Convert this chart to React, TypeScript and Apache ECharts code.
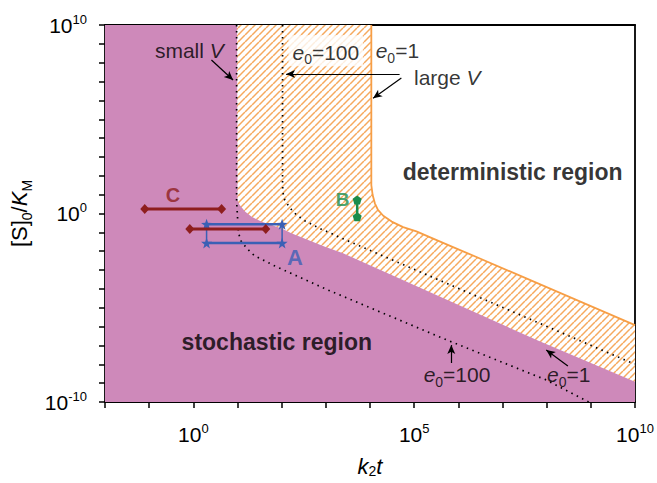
import React, { useEffect, useRef } from 'react';
import * as echarts from 'echarts';

// Both axes are logarithmic (decades); every value below is stored as log10 of the quantity.
// ---- axis ranges: log10(k2t) and log10([S]0/KM) ----
const X_MIN = -2;
const X_MAX = 10;
const Y_MIN = -10;
const Y_MAX = 10;
const X_LABEL_EXPONENTS = [0, 5, 10];
const Y_LABEL_EXPONENTS = [-10, 0, 10];

// ---- boundaries as [log10(k2t), log10([S]0/KM)] ----
// stochastic (purple) region boundary: small V, e0 = 1
const smallVe01 = [
  [-2, 10], [0.99, 10], [1.0, 0.72], [1.05, 0.45], [1.17, 0.1], [1.32, -0.17],
  [1.55, -0.44], [1.77, -0.61], [2.0, -0.79], [2.22, -1.05], [2.6, -1.41],
  [2.98, -1.76], [3.39, -2.11], [7.84, -6.78], [10, -8.93],
];
// orange boundary: large V, e0 = 1
const largeVe01 = [
  [4.03, 10], [4.03, 1.51], [4.06, 0.98], [4.11, 0.54], [4.18, 0.19], [4.3, -0.12],
  [4.49, -0.43], [4.75, -0.72], [5.05, -0.95], [5.43, -1.33], [5.88, -1.78],
  [6.41, -2.31], [10, -5.92],
];
// dotted: large V, e0 = 100
const largeVe0100 = [
  [2.02, 10], [2.02, 1.51], [2.03, 1.1], [2.07, 0.72], [2.19, 0.28], [2.34, -0.08],
  [2.52, -0.38], [2.71, -0.61], [2.9, -0.84], [3.09, -1.02], [3.31, -1.26],
  [9.86, -7.86], [10, -7.98],
];
// dotted: small V, e0 = 100
const smallVe0100 = [
  [0.98, 10], [0.98, 0.63], [1.0, -0.17], [1.02, -1.02], [1.08, -1.46], [1.21, -1.85],
  [1.39, -2.25], [1.66, -2.56], [1.85, -2.79], [3.05, -4.06], [5.74, -6.71],
  [7.99, -8.83], [8.95, -10],
];

// ---- experimental ranges ----
const rangeC = [[-1.1, 0.24], [0.64, 0.24]];
const rangeC2 = [[-0.08, -0.82], [1.64, -0.82]];
const rangeATop = [[0.3, -0.57], [2.01, -0.57]];
const rangeABottom = [[0.3, -1.57], [2.01, -1.57]];
const rangeALeft = [[0.3, -0.57], [0.3, -1.57]];
const rangeARight = [[2.01, -0.57], [2.01, -1.57]];
const rangeB = [[3.71, 0.72], [3.71, -0.17]];

// ---- annotations: [log x, log y, text key] ----
const annotations: [number, number, string][] = [
  [-0.09, 8.67, 'smallV'],
  [3.0, 8.64, 'e0100top'],
  [4.62, 8.64, 'e01top'],
  [5.75, 7.24, 'largeV'],
  [7.23, 2.2, 'det'],
  [1.89, -6.8, 'sto'],
  [5.97, -8.55, 'e0100bot'],
  [8.5, -8.55, 'e01bot'],
  [-0.46, 0.98, 'C'],
  [2.3, -2.31, 'A'],
  [3.38, 0.72, 'B'],
];
// arrows: [from lx, from ly, to lx, to ly]
const arrows = [
  [0.41, 8.14, 0.9, 7.08],
  [4.67, 7.4, 2.1, 7.4],
  [4.71, 7.19, 4.07, 6.11],
  [5.84, -7.93, 5.84, -6.98],
  [8.48, -8.09, 7.99, -7.24],
];

const FONT = 'Liberation Sans, Arial, sans-serif';
const INK = '#000';
const PURPLE = '#CE89BA';
const ORANGE = '#F79E45';
const DARKRED = '#8E1E1E';
const BLUE = '#3B60B5';
const GREEN = '#1B8C4C';

const STAR = 'path://M50,0 L61.8,33.8 L97.6,34.5 L69,56.2 L79.4,90.5 L50,70 L20.6,90.5 L31,56.2 L2.4,34.5 L38.2,33.8 Z';
const PENTAGON = 'path://M50,0 L97.6,34.5 L79.4,90.5 L20.6,90.5 L2.4,34.5 Z';

function makeHatch() {
  const s = 7;
  const c = document.createElement('canvas');
  c.width = s;
  c.height = s;
  const ctx = c.getContext('2d')!;
  ctx.fillStyle = '#ffffff';
  ctx.fillRect(0, 0, s, s);
  ctx.strokeStyle = '#F6A95E';
  ctx.lineWidth = 1.5;
  for (const k of [-1, 0, 1]) {
    ctx.beginPath();
    ctx.moveTo(k * s, s);
    ctx.lineTo(k * s + s, 0);
    ctx.stroke();
  }
  return c;
}

const subRich = (size: number, pad: number) => ({ fontSize: size, fontFamily: FONT, color: INK, padding: [pad, 0, 0, 0] });

const labelTexts: Record<string, any> = {
  smallV: { formatter: '{n|small }{i|V}' },
  e0100top: { formatter: '{i|e}{s|0}{n|=100}', backgroundColor: '#fff', padding: [3, 4, 0, 4] },
  e01top: { formatter: '{i|e}{s|0}{n|=1}' },
  largeV: { formatter: '{n|large }{i|V}' },
  det: { formatter: '{b|deterministic region}' },
  sto: { formatter: '{b|stochastic region}' },
  e0100bot: { formatter: '{i|e}{s|0}{n|=100}' },
  e01bot: { formatter: '{i|e}{s|0}{n|=1}' },
  C: { formatter: '{c|C}' },
  A: { formatter: '{a|A}' },
  B: { formatter: '{g|B}' },
};

const annRich = {
  n: { fontSize: 21, fontFamily: FONT, color: INK },
  i: { fontSize: 21, fontFamily: FONT, fontStyle: 'italic', color: INK },
  s: subRich(14, 14),
  b: { fontSize: 23, fontFamily: FONT, fontWeight: 'bold', color: INK },
  c: { fontSize: 20, fontFamily: FONT, fontWeight: 'bold', color: DARKRED },
  a: { fontSize: 22, fontFamily: FONT, fontWeight: 'bold', color: BLUE },
  g: { fontSize: 19, fontFamily: FONT, fontWeight: 'bold', color: GREEN },
};

const makeTickFormatter = (shown: number[]) => (v: number) => {
  const e = Math.round(v);
  return shown.includes(e) ? `{b|10}{s|${e}}` : '';
};
const tickRich = {
  b: { fontSize: 21, fontFamily: FONT, color: INK },
  s: { fontSize: 13, fontFamily: FONT, color: INK, padding: [0, 0, 12, 0] },
};

export default function App() {
  const ref = useRef<HTMLDivElement>(null);
  useEffect(() => {
    if (!ref.current) return;
    const chart = echarts.init(ref.current, null, { renderer: 'svg' });
    const hatch = makeHatch();
    const axisLine = { show: true, onZero: false, lineStyle: { color: INK, width: 1.8 } };
    const axisTick = { show: true, length: 6, lineStyle: { color: INK, width: 1.5 } };

    const lineSeries = (data: number[][], color: string, width: number, z: number, extra: any = {}) => ({
      type: 'line',
      data,
      symbol: 'none',
      lineStyle: { color, width },
      z,
      silent: true,
      ...extra,
    });
    const markerSeries = (data: number[][], color: string, symbol: string, size: any, width: number, z: number) => ({
      type: 'line',
      data,
      symbol,
      symbolSize: size,
      showSymbol: true,
      itemStyle: { color },
      lineStyle: { color, width },
      z,
      silent: true,
    });

    chart.setOption({
      animation: false,
      backgroundColor: '#fff',
      grid: { left: 105, right: 22, top: 25, bottom: 81, containLabel: false, outerBoundsMode: 'none' },
      xAxis: [
        {
          type: 'value', min: X_MIN, max: X_MAX, interval: 1,
          axisLine, axisTick,
          splitLine: { show: false },
          axisLabel: {
            formatter: makeTickFormatter(X_LABEL_EXPONENTS), rich: tickRich, margin: 20,
            showMinLabel: true, showMaxLabel: true, hideOverlap: false,
          },
          name: '{i|k}{s|2}{i|t}', nameLocation: 'middle', nameGap: 53,
          nameTextStyle: { rich: { i: { fontSize: 22, fontFamily: FONT, fontStyle: 'italic', color: INK }, s: subRich(14, 9) } },
        },
        { type: 'value', position: 'top', min: 0, max: 1, axisLine, axisTick: { show: false }, axisLabel: { show: false }, splitLine: { show: false } },
      ],
      yAxis: [
        {
          type: 'value', min: Y_MIN, max: Y_MAX, interval: 1,
          axisLine, axisTick,
          splitLine: { show: false },
          axisLabel: {
            formatter: makeTickFormatter(Y_LABEL_EXPONENTS), rich: tickRich, margin: 18,
            showMinLabel: true, showMaxLabel: true, hideOverlap: false,
          },
          name: '{n|[S]}{s|0}{n|/}{i|K}{s|M}', nameLocation: 'middle', nameGap: 62,
          nameTextStyle: {
            rich: {
              n: { fontSize: 22, fontFamily: FONT, color: INK },
              i: { fontSize: 22, fontFamily: FONT, fontStyle: 'italic', color: INK },
              s: subRich(14, 14),
            },
          },
        },
        { type: 'value', position: 'right', min: 0, max: 1, axisLine, axisTick: { show: false }, axisLabel: { show: false }, splitLine: { show: false } },
      ],
      series: [
        // hatched region (below large V, e0=1 boundary)
        {
          type: 'line', silent: true, z: 1, symbol: 'none',
          data: [[X_MIN, Y_MAX], ...largeVe01],
          lineStyle: { width: 0, opacity: 0 },
          areaStyle: { origin: 'start', opacity: 1, color: { image: hatch, repeat: 'repeat', imageWidth: 7, imageHeight: 7 } as any },
        },
        // stochastic region
        {
          type: 'line', silent: true, z: 2, symbol: 'none',
          data: smallVe01,
          lineStyle: { width: 0, opacity: 0 },
          areaStyle: { origin: 'start', opacity: 1, color: PURPLE },
        },
        lineSeries(largeVe01, ORANGE, 1.8, 3),
        lineSeries(largeVe0100, INK, 1.7, 3, { lineStyle: { color: INK, width: 1.7, type: [1.5, 4.5] } }),
        lineSeries(smallVe0100, INK, 1.7, 3, { lineStyle: { color: INK, width: 1.7, type: [1.5, 4.5] } }),
        // A (blue rectangle)
        lineSeries(rangeALeft, BLUE, 1.5, 4),
        lineSeries(rangeARight, BLUE, 1.5, 4),
        markerSeries(rangeATop, BLUE, STAR, 11, 2.5, 5),
        markerSeries(rangeABottom, BLUE, STAR, 11, 2.5, 5),
        // C (dark red)
        markerSeries(rangeC, DARKRED, 'diamond', [9, 10], 3, 6),
        markerSeries(rangeC2, DARKRED, 'diamond', [9, 10], 3, 6),
        // B (green)
        markerSeries(rangeB, GREEN, PENTAGON, 9, 2.5, 6),
        // annotations + arrows
        {
          type: 'scatter', silent: true, z: 8, symbolSize: 1,
          itemStyle: { color: 'rgba(0,0,0,0)' },
          data: annotations.map(([lx, ly, key]) => ({
            value: [lx, ly],
            label: { show: true, position: 'inside', rich: annRich, ...labelTexts[key] },
          })),
          markLine: {
            silent: true, symbol: ['none', 'arrow'], symbolSize: [6, 9], precision: 10,
            lineStyle: { color: INK, width: 1.2, type: 'solid' },
            label: { show: false },
            data: arrows.map(([x1, y1, x2, y2]) => [
              { coord: [x1, y1] },
              { coord: [x2, y2] },
            ]),
          },
        },
      ],
    });
    return () => chart.dispose();
  }, []);
  return <div ref={ref} style={{ position: 'fixed', left: 0, top: 0, width: 657, height: 483, background: '#fff' }} />;
}
